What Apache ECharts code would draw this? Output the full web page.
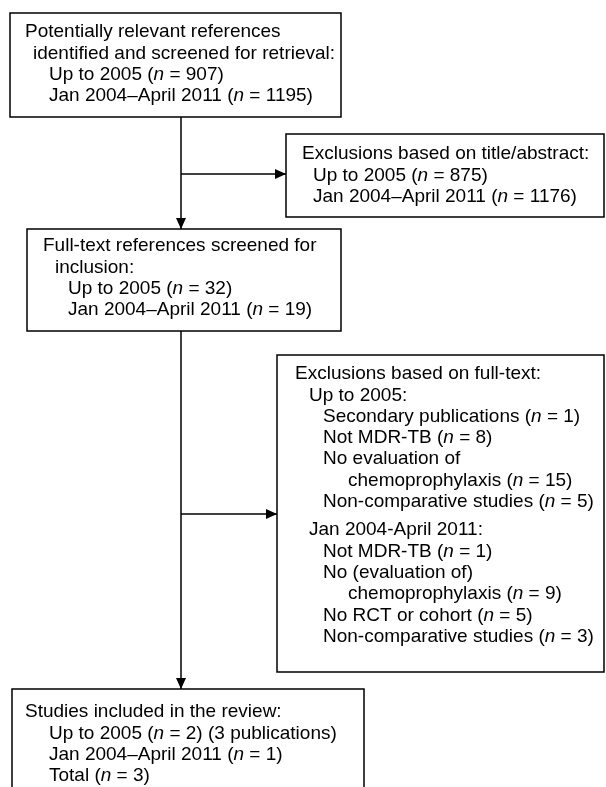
<!DOCTYPE html>
<html>
<head>
<meta charset="utf-8">
<script src="https://cdn.jsdelivr.net/npm/echarts@6/dist/echarts.min.js"></script>
<style>
  html, body { margin: 0; padding: 0; background: #fff; }
  #chart { width: 606px; height: 787px; }
</style>
</head>
<body>
<div id="chart"></div>
<script>
// flow chart content
const periods = ["Up to 2005", "Jan 2004\u2013April 2011"];
const retrievedCounts = [907, 1195];
const titleExclCounts = [875, 1176];
const fullTextCounts = [32, 19];
const earlyExclLabels = ["Secondary publications", "Not MDR-TB", "No evaluation of|chemoprophylaxis", "Non-comparative studies"];
const earlyExclCounts = [1, 8, 15, 5];
const lateExclLabels = ["Not MDR-TB", "No (evaluation of)|chemoprophylaxis", "No RCT or cohort", "Non-comparative studies"];
const lateExclCounts = [1, 9, 5, 3];
const includedCounts = [2, 1, 3];

const FONT = '"Liberation Sans", Arial, sans-serif';
const FS = 19;
const LH = 21.3;

// "label (n = x)" as rich text
function nText(label, n, tail) {
  return "{r|" + label + " (}{i|n}{r| = " + n + ")" + (tail || "") + "}";
}
function plain(s) { return "{r|" + s + "}"; }

// split "a|b" labels into two lines, count on last one
function exclLines(labels, counts) {
  const out = [];
  labels.forEach((lab, i) => {
    const parts = lab.split("|");
    if (parts.length > 1) {
      out.push({ t: plain(parts[0]), lvl: 2 });
      out.push({ t: nText(parts[1], counts[i]), lvl: 3 });
    } else {
      out.push({ t: nText(lab, counts[i]), lvl: 2 });
    }
  });
  return out;
}

const els = [];
const LW = 1.5;

function rect(x, y, w, h) {
  els.push({ type: "rect", shape: { x: x, y: y, width: w, height: h },
    style: { fill: "#fff", stroke: "#000", lineWidth: LW }, z: 1 });
}
function seg(x1, y1, x2, y2) {
  els.push({ type: "line", shape: { x1: x1, y1: y1, x2: x2, y2: y2 },
    style: { stroke: "#000", lineWidth: LW }, z: 2 });
}
function arrowDown(x, y) {
  els.push({ type: "polygon", shape: { points: [[x - 5, y - 11], [x + 5, y - 11], [x, y]] },
    style: { fill: "#000" }, z: 3 });
}
function arrowRight(x, y) {
  els.push({ type: "polygon", shape: { points: [[x - 11, y - 5], [x - 11, y + 5], [x, y]] },
    style: { fill: "#000" }, z: 3 });
}
function txt(s, x, y) {
  els.push({ type: "text", x: x, y: y, z: 4,
    style: { text: s, fill: "#000", fontSize: FS, fontFamily: FONT, verticalAlign: "middle", align: "left",
      rich: {
        r: { fontSize: FS, fontFamily: FONT, fill: "#000" },
        i: { fontSize: FS, fontFamily: FONT, fontStyle: "italic", fill: "#000" }
      } } });
}
function block(lines, x0, indents, y0, gaps) {
  let y = y0;
  lines.forEach((ln, k) => {
    if (gaps && gaps[k]) y += gaps[k];
    txt(ln.t, x0 + indents[ln.lvl], y);
    y += LH;
  });
}

// boxes
rect(10, 13, 331, 104);
rect(286, 134, 318, 83);
rect(27, 229, 314, 102);
rect(277, 355, 327, 317);
rect(12, 689, 352, 120);

// connectors
seg(181, 117, 181, 229); arrowDown(181, 229);
seg(181, 174, 286, 174); arrowRight(286, 174);
seg(181, 331, 181, 689); arrowDown(181, 689);
seg(181, 514, 277, 514); arrowRight(277, 514);

// box 1
block([
  { t: plain("Potentially relevant references"), lvl: 0 },
  { t: plain("identified and screened for retrieval:"), lvl: 1 },
  { t: nText(periods[0], retrievedCounts[0]), lvl: 2 },
  { t: nText(periods[1], retrievedCounts[1]), lvl: 2 }
], 25, [0, 8, 24], 32);

// title/abstract exclusions
block([
  { t: plain("Exclusions based on title/abstract:"), lvl: 0 },
  { t: nText(periods[0], titleExclCounts[0]), lvl: 1 },
  { t: nText(periods[1], titleExclCounts[1]), lvl: 1 }
], 302, [0, 11], 154);

// full text screened
block([
  { t: plain("Full-text references screened for"), lvl: 0 },
  { t: plain("inclusion:"), lvl: 1 },
  { t: nText(periods[0], fullTextCounts[0]), lvl: 2 },
  { t: nText(periods[1], fullTextCounts[1]), lvl: 2 }
], 43, [0, 12, 25], 246);

// full text exclusions
const ftLines = [{ t: plain("Exclusions based on full-text:"), lvl: 0 },
  { t: plain(periods[0] + ":"), lvl: 1 }]
  .concat(exclLines(earlyExclLabels, earlyExclCounts))
  .concat([{ t: plain("Jan 2004-April 2011:"), lvl: 1 }])
  .concat(exclLines(lateExclLabels, lateExclCounts));
block(ftLines, 295, [0, 14, 28, 53], 374, { 7: 7 });

// included
block([
  { t: plain("Studies included in the review:"), lvl: 0 },
  { t: nText(periods[0], includedCounts[0], " (3 publications)"), lvl: 1 },
  { t: nText(periods[1], includedCounts[1]), lvl: 1 },
  { t: nText("Total", includedCounts[2]), lvl: 1 }
], 25, [0, 24], 712);

const chart = echarts.init(document.getElementById("chart"));
chart.setOption({
  backgroundColor: "#fff",
  animation: false,
  graphic: { elements: els }
});
</script>
</body>
</html>
